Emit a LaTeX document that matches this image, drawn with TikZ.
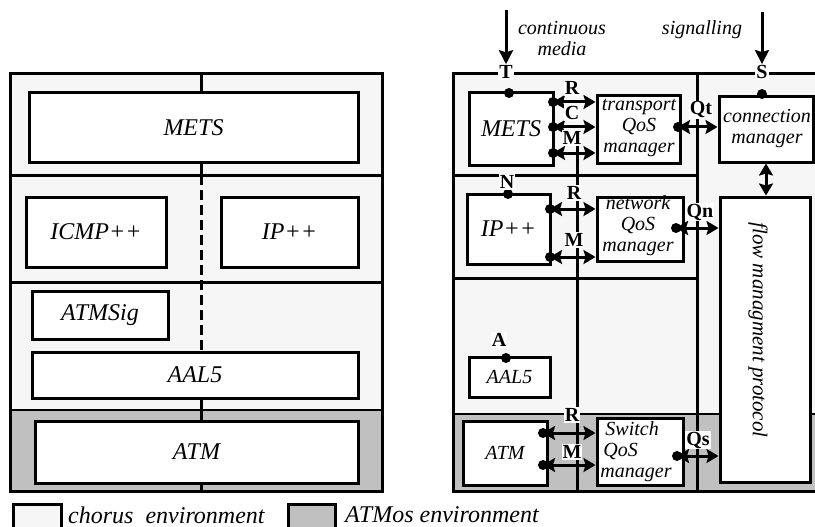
\documentclass[tikz,border=0pt]{standalone}
\usepackage{fontspec}
\setmainfont{Liberation Serif}
\usetikzlibrary{arrows.meta}
\definecolor{chorus}{HTML}{F6F6F6}
\definecolor{atmos}{HTML}{C0C0C0}
\tikzset{
  frame/.style={line width=3pt},
  box/.style={draw, line width=3pt, fill=white, inner sep=0pt, align=center,
     font=\itshape\fontsize{24}{26}\selectfont},
  sbox/.style={box, font=\itshape\fontsize{20}{21}\selectfont},
  lab/.style={fill=white, inner sep=1pt, font=\bfseries\fontsize{20}{20}\selectfont},
  dot/.style={circle, fill=black, inner sep=0pt, minimum size=10pt},
  conn/.style={line width=3pt, {Stealth[length=12pt,width=14pt,inset=2pt]}-{Stealth[length=12pt,width=14pt,inset=2pt]}},
  inarrow/.style={line width=3pt, -{Stealth[length=14pt,width=14pt,inset=2pt]}},
  txt/.style={inner sep=0pt, align=center, font=\itshape\fontsize{20}{21}\selectfont},
  legtxt/.style={inner sep=0pt, anchor=west, font=\itshape\fontsize{24}{26}\selectfont},
}
\begin{document}
\begin{tikzpicture}[x=1pt,y=-1pt]
\useasboundingbox (0,0) rectangle (815,527);
\begin{scope}
\clip (0,0) rectangle (815,527);
% ---------------- left diagram ----------------
\fill[chorus] (10,74) rectangle (382,410);
\fill[atmos] (10,410) rectangle (382,491);
\draw[frame] (10,175) -- (382,175);
\draw[frame] (10,282) -- (382,282);
\draw[line width=2pt] (10,410) -- (382,410);
\draw[frame] (10,74) rectangle (382,491);
\draw[frame] (201,74) -- (201,93);
\draw[frame] (201,162) -- (201,175);
\draw[frame, dash pattern=on 10pt off 5pt] (201,175) -- (201,352);
\draw[frame] (201,398) -- (201,421);
\draw[frame] (201,483) -- (201,491);
\node[box, minimum width=329pt, minimum height=69pt] (lmets) at (193.5,127.5) {METS};
\node[box, minimum width=140pt, minimum height=70pt] (licmp) at (96,232) {ICMP++};
\node[box, minimum width=137pt, minimum height=70pt] (lip) at (289.5,232) {IP++};
\node[box, minimum width=136pt, minimum height=48pt] (lsig) at (100,315) {ATMSig};
\node[box, minimum width=326pt, minimum height=46pt] (laal) at (195,375) {AAL5};
\node[box, minimum width=323pt, minimum height=62pt] (latm) at (196.5,452) {ATM};
% ---------------- right diagram ----------------
\fill[chorus] (453,74) rectangle (820,414);
\fill[atmos] (453,414) rectangle (820,491);
\draw[frame] (453,175) -- (697,175);
\draw[frame] (453,278) -- (697,278);
\draw[line width=2pt] (453,414) -- (820,414);
\draw[frame] (697,74) -- (697,491);
\draw[frame] (577,146) -- (577,491);
\draw[frame] (820,74) -- (453,74) -- (453,491) -- (820,491);
\node[box, minimum width=84pt, minimum height=72pt] (rmets) at (511,129) {METS};
\node[sbox, minimum width=83pt, minimum height=67pt] (tqos) at (638.5,129.5) {};
\node[sbox, minimum width=94pt, minimum height=65pt] (conn) at (766,129.5) {};
\node[sbox, minimum width=90pt, minimum height=285pt] (flow) at (765,339.5) {};
\node[box, minimum width=83pt, minimum height=70pt] (rip) at (508.5,229) {IP++};
\node[sbox, minimum width=86pt, minimum height=64pt] (nqos) at (640,229) {};
\node[sbox, minimum width=81pt, minimum height=40pt] (raal) at (509.5,377) {AAL5};
\node[sbox, minimum width=84pt, minimum height=64pt] (ratm) at (505,453) {ATM};
\node[sbox, minimum width=86pt, minimum height=67pt] (sqos) at (640,451.5) {};
% texts inside QoS boxes
\node[txt] (tqostxt) at (639,128) {transport\\QoS\\manager};
\node[txt] (conntxt) at (767,129) {connection\\manager};
\node[txt] (nqostxt) at (638,226) {network\\QoS\\manager};
\node[txt, align=left] (sqostxt) at (636,452) {\hspace*{5pt}Switch\\\hspace*{3pt}QoS\\manager};
\node[txt, rotate=-90, font=\itshape\fontsize{21}{22}\selectfont] (flowtxt) at (758,330) {flow managment protocol};
% input arrows
\node[txt] (cmtxt) at (562,38) {continuous\\media};
\node[txt] (sigtxt) at (702,30) {signalling};
\node[lab] (T) at (506,72) {T};
\node[lab] (S) at (762,72) {S};
\coordinate (Tin) at (506,10);
\coordinate (Sin) at (762,12);
\draw[inarrow] (Tin) -- (T);
\draw[inarrow] (Sin) -- (S);
% top dots
\node[dot] (dmets) at (509,93) {};
\node[dot] (dconn) at (762,94) {};
\node[dot] (dip) at (508,194) {};
\node[dot] (daal) at (506,358) {};
\node[lab] (N) at (507,182) {N};
\node[lab] (A) at (499,340) {A};
% METS <-> transport QoS
\node[dot] (m1) at (553,102) {};
\node[dot] (m2) at (553,127) {};
\node[dot] (m3) at (553,153) {};
\draw[conn] (m1.center) -- (tqos.west |- m1.center);
\draw[conn] (m2.center) -- (tqos.west |- m2.center);
\draw[conn] (m3.center) -- (tqos.west |- m3.center);
\node[lab] (R1) at (572,88) {R};
\node[lab] (C1) at (572,113) {C};
\node[lab] (M1) at (572,138) {M};
\node[dot] (qt) at (678,127) {};
\draw[conn] (qt.center) -- (conn.west |- qt.center);
\node[lab] (Qt) at (701,110) {Qt};
\draw[conn] (conn.south) -- (flow.north -| conn.south);
% IP++ <-> network QoS
\node[dot] (i1) at (550,209) {};
\node[dot] (i2) at (550,257) {};
\draw[conn] (i1.center) -- (nqos.west |- i1.center);
\draw[conn] (i2.center) -- (nqos.west |- i2.center);
\node[lab] (R2) at (574,193) {R};
\node[lab] (M2) at (574,240) {M};
\node[dot] (qn) at (676,228) {};
\draw[conn] (qn.center) -- (flow.west |- qn.center);
\node[lab] (Qn) at (700,212) {Qn};
% ATM <-> Switch QoS
\node[dot] (a1) at (543,433) {};
\node[dot] (a2) at (543,465) {};
\draw[conn] (a1.center) -- (sqos.west |- a1.center);
\draw[conn] (a2.center) -- (sqos.west |- a2.center);
\node[lab] (R3) at (572,415) {R};
\node[lab] (M3) at (572,452) {M};
\node[dot] (qs) at (677,456) {};
\draw[conn] (qs.center) -- (flow.west |- qs.center);
\node[lab] (Qs) at (698,440) {Qs};
% legend
\node[draw, line width=3pt, fill=chorus, minimum width=48pt, minimum height=26pt, inner sep=0pt] (leg1) at (37,517) {};
\node[legtxt] (leg1t) at (68,515) {chorus\ \ environment};
\node[draw, line width=3pt, fill=atmos, minimum width=47pt, minimum height=26pt, inner sep=0pt] (leg2) at (311.5,517) {};
\node[legtxt] (leg2t) at (345,515) {ATMos environment};
\end{scope}
\end{tikzpicture}
\end{document}
